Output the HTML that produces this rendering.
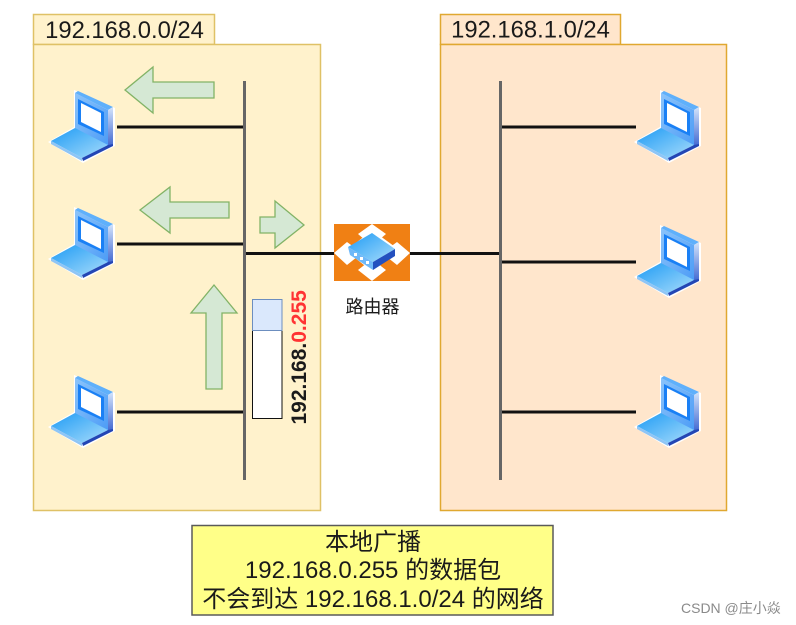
<!DOCTYPE html>
<html><head><meta charset="utf-8">
<style>
html,body{margin:0;padding:0;background:#fff;width:796px;height:625px;overflow:hidden}
svg{display:block}
text{font-family:"Liberation Sans","Noto Sans CJK SC",sans-serif;fill:#1a1a1a}
</style></head><body>
<svg width="796" height="625" viewBox="0 0 796 625" xmlns="http://www.w3.org/2000/svg">
<defs>
<linearGradient id="b" x1="0" y1="0" x2="1" y2="1"><stop offset="0" stop-color="#1e9bf5"/><stop offset="1" stop-color="#a8dcfb"/></linearGradient>
<linearGradient id="s" x1="0" y1="0" x2="1" y2="1"><stop offset="0" stop-color="#8cc4fb"/><stop offset="1" stop-color="#4c9cf6"/></linearGradient>
<linearGradient id="e" x1="0" y1="0" x2="0" y2="1"><stop offset="0" stop-color="#d4e4fb"/><stop offset="1" stop-color="#3f66d0"/></linearGradient>
<g id="lap">
<path d="M24 0 L65 18 L65 56 L33 73 L-2 52 L24 37Z" fill="#fff"/>
<polygon points="25,3 58,20 58,56 25,39" fill="url(#s)"/>
<polygon points="25,3 28,1 63,17 58,20" fill="#5fb0fb"/>
<polygon points="58,20 63,17 63,54 58,57" fill="url(#e)"/>
<polygon points="28,9 54,22 54,46 28,34" fill="#1a80f5"/>
<polygon points="31,13 51,23 51,42 31,32" fill="#fff"/>
<polygon points="25,38 58,55 32,68 1,51" fill="url(#b)"/>
<polygon points="1,51 32,68 32,71 1,54" fill="#8fc5f5"/>
<polygon points="32,68 58,55 63,54 63,56 33,71" fill="#2346b5"/>
</g>
</defs>

<rect x="33.500" y="14.500" width="181" height="30" fill="#fff2cc" stroke="#dfc166" stroke-width="1.500"/>
<rect x="33.500" y="44.500" width="287" height="466" fill="#fff2cc" stroke="#dfc166" stroke-width="1.500"/>
<rect x="440.500" y="14.500" width="180" height="30" fill="#ffe6cc" stroke="#e0a830" stroke-width="1.500"/>
<rect x="440.500" y="44.500" width="286" height="466" fill="#ffe6cc" stroke="#e0a830" stroke-width="1.500"/>
<text x="124.500" y="38" font-size="23.800" text-anchor="middle">192.168.0.0/24</text>
<text x="530.500" y="37.500" font-size="23.800" text-anchor="middle">192.168.1.0/24</text>

<g stroke="#111" stroke-width="3" fill="none">
<path d="M117 127H244M117 244H244M117 412H244M246 253.500H336M409 253.500H500M502 127H636M502 262H636M502 412H636"/>
</g>
<path d="M244.500 81V480M500.500 81V480" stroke="#666" stroke-width="3" fill="none"/>

<g fill="#d5e8d4" stroke="#82b366" stroke-width="1.300">
<polygon points="125,90 153,67 153,82 214,82 214,98 153,98 153,113"/>
<polygon points="140,210 170,187 170,202 229,202 229,218 170,218 170,233"/>
<polygon points="304,225 275,201 275,217 260,217 260,233 275,233 275,248"/>
<polygon points="214,285 237,313 222,313 222,389 206,389 206,313 191,313"/>
</g>

<use href="#lap" x="50" y="90"/>
<use href="#lap" x="50" y="207"/>
<use href="#lap" x="50" y="375"/>
<use href="#lap" x="636" y="90"/>
<use href="#lap" x="636" y="225"/>
<use href="#lap" x="636" y="375"/>

<rect x="334" y="224" width="76" height="57" fill="#f08014"/>
<g fill="#fff">
<polygon points="358,234 372,224 386,234 372,246"/>
<polygon points="358,270 372,259 386,270 372,281"/>
<polygon points="334,253 347,242 362,253 347,265"/>
<polygon points="382,253 397,242 410,253 397,265"/>
</g>
<polygon points="372,230 398,249 373,272 346,251" fill="#fff"/>
<polygon points="372,233 395,249 373,262 348,247" fill="url(#b)"/>
<polygon points="348,247 373,262 373,270 350,255" fill="#6fb8f8"/>
<polygon points="373,262 395,249 395,256 373,270" fill="#2350bf"/>
<rect x="354" y="253" width="3" height="3" fill="#fff"/><rect x="360" y="257" width="3" height="3" fill="#fff"/><rect x="366" y="261" width="3" height="3" fill="#fff"/>
<text x="372.500" y="313" font-size="18" text-anchor="middle">路由器</text>

<rect x="252.500" y="330.500" width="29.500" height="88" fill="#fff" stroke="#111" stroke-width="1"/>
<rect x="252.500" y="299.500" width="29.500" height="31" fill="#dae8fc" stroke="#6c8ebf" stroke-width="1"/>
<text transform="translate(306,424.500) rotate(-90)" font-size="21" font-weight="bold">192.168.<tspan style="fill:#ff3333">0.255</tspan></text>

<rect x="192" y="525.500" width="361" height="89.500" fill="#ffff88" stroke="#5a5a5a" stroke-width="1.500"/>
<text x="373" y="550" font-size="24" text-anchor="middle">本地广播</text>
<text x="373" y="578" font-size="24" text-anchor="middle">192.168.0.255 的数据包</text>
<text x="373" y="607" font-size="24" text-anchor="middle">不会到达 192.168.1.0/24 的网络</text>

<text x="681" y="613" font-size="14" style="fill:#8a8a8a">CSDN @庄小焱</text>
</svg>
</body></html>
